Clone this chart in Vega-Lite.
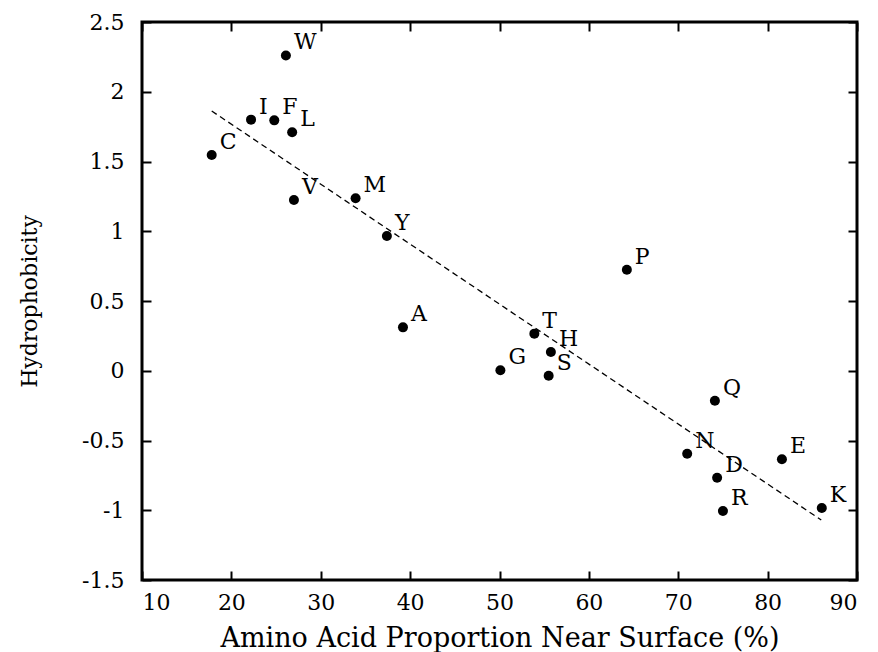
{
  "$schema": "https://vega.github.io/schema/vega-lite/v6.json",
  "width": 715,
  "height": 558,
  "autosize": "none",
  "padding": {"left": 142, "top": 22, "right": 21, "bottom": 72},
  "background": "white",
  "config": {
    "view": {"stroke": "black", "strokeWidth": 3},
    "axis": {
      "grid": false,
      "domain": false,
      "tickColor": "black",
      "tickWidth": 2,
      "tickSize": -9,
      "labelFont": "DejaVu Serif",
      "labelFontSize": 22,
      "labelColor": "black",
      "titleFont": "DejaVu Serif",
      "titleFontWeight": "normal",
      "titleColor": "black"
    }
  },
  "datasets": {
    "acids": [
      {"aa": "W", "surface": 26.1, "hydro": 2.26},
      {"aa": "I", "surface": 22.2, "hydro": 1.80},
      {"aa": "F", "surface": 24.8, "hydro": 1.795},
      {"aa": "L", "surface": 26.8, "hydro": 1.71},
      {"aa": "C", "surface": 17.8, "hydro": 1.547},
      {"aa": "V", "surface": 27.0, "hydro": 1.224},
      {"aa": "M", "surface": 33.9, "hydro": 1.236},
      {"aa": "Y", "surface": 37.4, "hydro": 0.966},
      {"aa": "A", "surface": 39.2, "hydro": 0.311},
      {"aa": "G", "surface": 50.1, "hydro": 0.003},
      {"aa": "T", "surface": 53.9, "hydro": 0.266},
      {"aa": "H", "surface": 55.75, "hydro": 0.134},
      {"aa": "S", "surface": 55.5, "hydro": -0.036},
      {"aa": "P", "surface": 64.25, "hydro": 0.724},
      {"aa": "Q", "surface": 74.1, "hydro": -0.215},
      {"aa": "N", "surface": 71.0, "hydro": -0.595},
      {"aa": "E", "surface": 81.6, "hydro": -0.635},
      {"aa": "D", "surface": 74.35, "hydro": -0.767},
      {"aa": "R", "surface": 75.0, "hydro": -1.005},
      {"aa": "K", "surface": 86.06, "hydro": -0.984}
    ],
    "fit": [
      {"surface": 17.8, "hydro": 1.862},
      {"surface": 86.0, "hydro": -1.07}
    ]
  },
  "layer": [
    {
      "data": {"name": "fit"},
      "mark": {"type": "line", "color": "black", "strokeWidth": 1.3, "strokeDash": [6, 4]},
      "encoding": {
        "x": {
          "field": "surface", "type": "quantitative",
          "scale": {"domain": [10, 90], "nice": false, "zero": false},
          "axis": {
            "orient": "bottom",
            "values": [10, 20, 30, 40, 50, 60, 70, 80, 90],
            "labelExpr": "datum.value + ''",
            "labelPadding": 21,
            "title": "Amino Acid Proportion Near Surface (%)",
            "titleFontSize": 27,
            "titlePadding": 12
          }
        },
        "y": {
          "field": "hydro", "type": "quantitative",
          "scale": {"domain": [-1.5, 2.5], "nice": false, "zero": false},
          "axis": {
            "orient": "left",
            "values": [-1.5, -1, -0.5, 0, 0.5, 1, 1.5, 2, 2.5],
            "labelExpr": "datum.value + ''",
            "labelPadding": 27,
            "title": "Hydrophobicity",
            "titleFontSize": 22,
            "titlePadding": 40
          }
        }
      }
    },
    {
      "data": {"name": "acids"},
      "mark": {"type": "circle", "color": "black", "opacity": 1, "size": 100},
      "encoding": {
        "x": {
          "field": "surface", "type": "quantitative",
          "axis": {
            "orient": "top",
            "values": [10, 20, 30, 40, 50, 60, 70, 80, 90],
            "labels": false,
            "title": null
          }
        },
        "y": {
          "field": "hydro", "type": "quantitative",
          "axis": {
            "orient": "right",
            "values": [-1.5, -1, -0.5, 0, 0.5, 1, 1.5, 2, 2.5],
            "labels": false,
            "title": null
          }
        }
      }
    },
    {
      "data": {"name": "acids"},
      "mark": {"type": "text", "align": "left", "baseline": "alphabetic", "dx": 8, "dy": -6, "font": "DejaVu Serif", "fontSize": 22, "color": "black"},
      "encoding": {
        "x": {"field": "surface", "type": "quantitative", "axis": null},
        "y": {"field": "hydro", "type": "quantitative", "axis": null},
        "text": {"field": "aa"}
      }
    }
  ]
}
